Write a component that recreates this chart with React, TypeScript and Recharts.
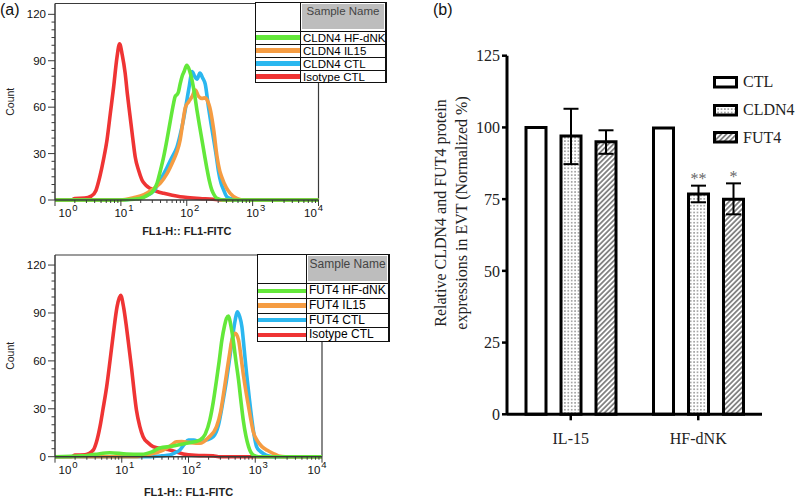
import React from 'react';
import {
  LineChart, Line, XAxis, YAxis, ReferenceLine, Legend,
  BarChart, Bar, ErrorBar, LabelList,
} from 'recharts';

// ---------------- Panel (a): flow cytometry histograms ----------------
// points: [log10(FL1-FITC), count]
const cldn4Isotype: number[][] = [
  [0, 0], [0.25, 0], [0.3, 1], [0.45, 1.2], [0.55, 2.5], [0.62, 6], [0.68, 15], [0.74, 27], [0.79, 39],
  [0.84, 56], [0.89, 73], [0.94, 92], [0.98, 101], [1.02, 94], [1.065, 82], [1.1, 68], [1.14, 54],
  [1.18, 40], [1.217, 28], [1.27, 19], [1.32, 13], [1.38, 9.5], [1.445, 7.5], [1.55, 5.5], [1.65, 4.3],
  [1.78, 3], [1.9, 2.1], [2.05, 1.5], [2.2, 1], [2.4, 0.5], [2.5, 0], [4, 0],
];
const cldn4Ctl: number[][] = [
  [0, 0], [1.0, 0], [1.2, 1], [1.4, 3], [1.5, 6], [1.6, 13], [1.7, 21], [1.78, 28], [1.85, 34], [1.9, 42],
  [1.95, 52], [2.0, 64], [2.04, 74], [2.08, 83], [2.12, 80], [2.155, 78], [2.2, 82], [2.24, 79], [2.28, 75],
  [2.33, 60], [2.37, 49], [2.41, 38.8], [2.45, 28], [2.48, 19], [2.52, 11], [2.56, 6.5], [2.61, 2],
  [2.7, 0.5], [2.8, 0], [4, 0],
];
const cldn4Il15: number[][] = [
  [0, 0], [1.0, 0], [1.19, 1.5], [1.35, 3.5], [1.5, 7.5], [1.6, 11], [1.7, 17], [1.8, 25.8], [1.85, 31],
  [1.9, 38.8], [1.94, 50], [1.98, 60], [2.03, 63.5], [2.08, 66.8], [2.13, 71], [2.18, 67], [2.23, 65.7],
  [2.28, 66], [2.31, 64.6], [2.36, 58], [2.41, 45], [2.46, 28], [2.5, 19], [2.53, 15], [2.6, 8],
  [2.66, 4.3], [2.76, 1], [2.85, 0], [4, 0],
];
const cldn4HfDnk: number[][] = [
  [0, 0], [1.0, 0], [1.2, 0.5], [1.29, 1], [1.4, 3], [1.5, 6.5], [1.55, 11], [1.6, 19], [1.65, 28],
  [1.7, 39], [1.75, 51], [1.8, 62.5], [1.825, 67], [1.85, 68], [1.875, 70], [1.9, 75], [1.93, 80],
  [1.96, 83], [2.0, 87], [2.04, 84], [2.08, 77.5], [2.12, 68], [2.155, 58], [2.19, 49], [2.23, 39],
  [2.27, 29], [2.31, 19.4], [2.345, 12], [2.38, 6.5], [2.42, 3], [2.46, 1], [2.55, 0], [4, 0],
];

const fut4Isotype: number[][] = [
  [0, 0], [0.25, 0], [0.3, 1], [0.45, 1.2], [0.574, 4.2], [0.62, 9], [0.674, 18.8], [0.72, 30],
  [0.774, 43.8], [0.824, 60], [0.874, 77], [0.93, 94], [0.984, 101], [1.03, 93], [1.07, 81.4], [1.11, 68],
  [1.15, 54.3], [1.185, 41], [1.22, 29.2], [1.27, 19], [1.32, 12.5], [1.4, 8.5], [1.47, 6.3], [1.6, 5],
  [1.72, 4.2], [1.82, 3], [1.92, 1.7], [2.1, 0.8], [2.37, 0.5], [2.45, 0], [4, 0],
];
const fut4Ctl: number[][] = [
  [0, 0], [1.4, 0], [1.6, 0.5], [1.72, 1], [1.8, 2.5], [1.87, 4.2], [1.94, 8], [2.0, 10.4], [2.08, 10.5],
  [2.17, 9.4], [2.27, 10.5], [2.37, 12.5], [2.45, 20], [2.52, 35.5], [2.57, 48], [2.62, 62.6], [2.66, 75],
  [2.7, 85.6], [2.73, 90.8], [2.765, 88], [2.8, 81.4], [2.835, 67], [2.87, 52], [2.91, 37], [2.95, 23],
  [2.985, 13], [3.02, 6.3], [3.07, 3.5], [3.12, 2], [3.2, 0.5], [3.3, 0], [4, 0],
];
const fut4Il15: number[][] = [
  [0, 0], [1.2, 0], [1.4, 1.5], [1.52, 2.5], [1.67, 5.2], [1.75, 7.5], [1.82, 9.4], [1.9, 9.5], [2.0, 9],
  [2.17, 8.4], [2.3, 12], [2.42, 18.8], [2.48, 28], [2.52, 38], [2.57, 52], [2.61, 63], [2.65, 73],
  [2.7, 77.3], [2.75, 73], [2.785, 63], [2.82, 52], [2.86, 41], [2.9, 31.3], [2.935, 23], [2.97, 15.7],
  [3.03, 10], [3.1, 6.3], [3.18, 4], [3.27, 2], [3.35, 0.5], [3.45, 0], [4, 0],
];
const fut4HfDnk: number[][] = [
  [0, 0], [0.4, 0.5], [0.6, 1.5], [0.82, 2.5], [1.07, 1.7], [1.3, 1.5], [1.45, 3], [1.57, 5.4], [1.75, 6.5],
  [1.97, 8.4], [2.17, 10.4], [2.25, 14], [2.32, 23], [2.37, 34], [2.42, 48], [2.46, 60], [2.5, 73],
  [2.54, 82], [2.57, 86.7], [2.6, 88], [2.635, 82], [2.67, 73], [2.71, 60], [2.75, 48], [2.785, 35],
  [2.82, 23], [2.86, 13], [2.9, 6.3], [2.97, 1], [3.05, 0], [4, 0],
];

const cldn4Labels = ['CLDN4 HF-dNK', 'CLDN4 IL15', 'CLDN4 CTL', 'Isotype CTL'];
const fut4Labels = ['FUT4 HF-dNK', 'FUT4 IL15', 'FUT4 CTL', 'Isotype CTL'];
const flowColors = ['#63e83a', '#f59c42', '#2bb7ef', '#ef3434'];
const decades = [0, 1, 2, 3, 4];
const countMajor = [0, 30, 60, 90, 120];
const countStep = 5;

// ---------------- Panel (b): bar chart ----------------
const groups = ['IL-15', 'HF-dNK'];
const ctlValues = [100, 99.8];
const cldn4Values = [97.0, 76.8];
const fut4Values = [95.0, 75.0];
const cldn4Errors = [[9.8, 9.5], [2.9, 2.9]];
const fut4Errors = [[4.2, 4.0], [5.3, 5.5]];
const cldn4Sig = ['', '**'];
const fut4Sig = ['', '*'];
const barNames = ['CTL', 'CLDN4', 'FUT4'];
const barTicks = [0, 25, 50, 75, 100, 125];

// ----------------------------------------------------------------------
const toPoints = (arr: number[][]) => arr.map(([x, y]) => ({ x, y }));

const logTicks: number[] = [];
decades.forEach((d) => {
  if (d < 4) {
    for (let k = 1; k <= 9; k++) logTicks.push(d + Math.log10(k));
  } else logTicks.push(d);
});
const countTicks: number[] = [];
for (let v = 0; v <= countMajor[countMajor.length - 1]; v += countStep) countTicks.push(v);

const AXIS_GRAY = '#3a3a3a';
const SANS = 'Arial, "Liberation Sans", Helvetica, sans-serif';
const SERIF = '"Liberation Serif", "Times New Roman", serif';

const LogTick = (props: any) => {
  const { x, y, payload } = props;
  const v = payload.value;
  const isMajor = Math.abs(v - Math.round(v)) < 1e-6;
  const len = isMajor ? 6 : 3;
  let shift = 0;
  if (isMajor && Math.round(v) === 0) shift = 10;
  if (isMajor && Math.round(v) === 4) shift = -8;
  return (
    <g>
      <line x1={x} x2={x} y1={y} y2={y + len} stroke={AXIS_GRAY} strokeWidth={1} />
      {isMajor && (
        <text x={x + shift - 6.5} y={y + 17} textAnchor="start" fontFamily={SANS} fontSize={11.5} fill="#111">
          10
          <tspan dx={1} dy={-6} fontSize={9.5}>{Math.round(v)}</tspan>
        </text>
      )}
    </g>
  );
};

const CountTick = (props: any) => {
  const { x, y, payload } = props;
  const v = payload.value;
  const isMajor = countMajor.includes(v);
  return (
    <g>
      <line x1={x - (isMajor ? 7 : 3.5)} x2={x} y1={y} y2={y} stroke={AXIS_GRAY} strokeWidth={1} />
      {isMajor && (
        <text x={x - 9} y={y} dy="0.36em" textAnchor="end" fontFamily={SANS} fontSize={11.5} fill="#111">
          {v}
        </text>
      )}
    </g>
  );
};

function FlowLegendTable(props: any) {
  const { payload = [], order, width, height, headerHeight, splitX, fontSize } = props;
  const items = order
    .map((n: string) => payload.find((p: any) => p.value === n))
    .filter(Boolean);
  const rowH = (height - headerHeight) / Math.max(items.length, 1);
  return (
    <div
      style={{
        position: 'relative', width, height, boxSizing: 'border-box',
        border: '1px solid #111', borderRight: '2px solid #111', background: '#fff',
        fontFamily: SANS, color: '#000',
      }}
    >
      <div style={{ position: 'absolute', left: splitX - 1, top: 0, width: 1, height: height - 2, background: '#111' }} />
      <div
        style={{
          position: 'absolute', left: splitX + 1, top: 1, right: 1, height: headerHeight - 4,
          background: '#bdbdbd', color: '#444', fontSize, textAlign: 'center',
          lineHeight: `${fontSize + 4}px`, whiteSpace: 'nowrap',
        }}
      >
        Sample Name
      </div>
      {items.map((it: any, i: number) => {
        const top = headerHeight - 1 + i * rowH;
        return (
          <div
            key={i}
            style={{
              position: 'absolute', left: 0, right: 0, top, height: rowH,
              borderTop: '1px solid #111', boxSizing: 'border-box',
            }}
          >
            <div
              style={{
                position: 'absolute', left: 0, width: splitX - 1, top: (rowH - 1) / 2 - 2.5,
                height: 4.5, background: it.color,
              }}
            />
            <div
              style={{
                position: 'absolute', left: splitX + 2, top: 0, height: rowH - 1,
                lineHeight: `${rowH - 1}px`, fontSize, whiteSpace: 'nowrap',
              }}
            >
              {it.value}
            </div>
          </div>
        );
      })}
    </div>
  );
}

type HistProps = {
  series: { name: string; color: string; points: { x: number; y: number }[] }[];
  order: string[];
  yMax: number;
  chartHeight: number;
  plotTop: number;
  plotBottom: number;
  plotRight: number;
  xLabelOffset: number;
  legend: { left: number; top: number; width: number; height: number; headerHeight: number; splitX: number; fontSize: number };
};

function Histogram(p: HistProps) {
  const xAxisHeight = p.chartHeight - p.plotBottom;
  return (
    <LineChart
      width={400}
      height={p.chartHeight}
      margin={{ top: p.plotTop, right: 400 - p.plotRight, bottom: 0, left: 0 }}
    >
      <XAxis
        type="number"
        dataKey="x"
        domain={[0, 4]}
        ticks={logTicks}
        interval={0}
        tick={<LogTick />}
        tickLine={false}
        tickSize={0}
        tickMargin={0}
        height={xAxisHeight}
        axisLine={{ stroke: AXIS_GRAY, strokeWidth: 1.5 }}
        label={{
          content: (lp: any) => {
            const vb = lp.viewBox || {};
            return (
              <text
                x={vb.x + vb.width / 2}
                y={vb.y + p.xLabelOffset}
                dy="0.36em"
                textAnchor="middle"
                fontFamily={SANS}
                fontSize={11}
                fontWeight="bold"
                fill="#222"
              >
                FL1-H:: FL1-FITC
              </text>
            );
          },
        }}
      />
      <YAxis
        type="number"
        domain={[0, p.yMax]}
        ticks={countTicks}
        interval={0}
        tick={<CountTick />}
        tickLine={false}
        tickSize={0}
        tickMargin={0}
        width={55}
        axisLine={{ stroke: AXIS_GRAY, strokeWidth: 1.5 }}
        label={{
          content: (lp: any) => {
            const vb = lp.viewBox || {};
            const cy = vb.y + vb.height / 2;
            return (
              <text
                x={10}
                y={cy}
                transform={`rotate(-90, 10, ${cy})`}
                textAnchor="middle"
                dy="0.36em"
                fontFamily={SANS}
                fontSize={10.5}
                fill="#222"
              >
                Count
              </text>
            );
          },
        }}
      />
      <ReferenceLine y={p.yMax} stroke={AXIS_GRAY} strokeWidth={1.2} />
      <ReferenceLine x={4} stroke={AXIS_GRAY} strokeWidth={1.2} />
      {p.series.map((s) => (
        <Line
          key={s.name}
          data={s.points}
          dataKey="y"
          name={s.name}
          stroke={s.color}
          strokeWidth={3.6}
          strokeLinejoin="round"
          dot={false}
          activeDot={false}
          type="monotone"
          isAnimationActive={false}
        />
      ))}
      <Legend
        layout="horizontal"
        verticalAlign="middle"
        align="center"
        wrapperStyle={{ left: p.legend.left, top: p.legend.top, width: p.legend.width, height: p.legend.height }}
        content={(lp: any) => (
          <FlowLegendTable
            payload={lp.payload}
            order={p.order}
            width={p.legend.width}
            height={p.legend.height}
            headerHeight={p.legend.headerHeight}
            splitX={p.legend.splitX}
            fontSize={p.legend.fontSize}
          />
        )}
      />
    </LineChart>
  );
}

// draw order: isotype (bottom), CTL, IL15, HF-dNK (top)
const cldn4Series = [
  { name: cldn4Labels[3], color: flowColors[3], points: toPoints(cldn4Isotype) },
  { name: cldn4Labels[2], color: flowColors[2], points: toPoints(cldn4Ctl) },
  { name: cldn4Labels[1], color: flowColors[1], points: toPoints(cldn4Il15) },
  { name: cldn4Labels[0], color: flowColors[0], points: toPoints(cldn4HfDnk) },
];
const fut4Series = [
  { name: fut4Labels[3], color: flowColors[3], points: toPoints(fut4Isotype) },
  { name: fut4Labels[2], color: flowColors[2], points: toPoints(fut4Ctl) },
  { name: fut4Labels[1], color: flowColors[1], points: toPoints(fut4Il15) },
  { name: fut4Labels[0], color: flowColors[0], points: toPoints(fut4HfDnk) },
];

const barData = groups.map((g, i) => ({
  group: g,
  ctl: ctlValues[i],
  cldn4: cldn4Values[i],
  fut4: fut4Values[i],
  cldn4Err: cldn4Errors[i],
  fut4Err: fut4Errors[i],
  cldn4Sig: cldn4Sig[i],
  fut4Sig: fut4Sig[i],
}));

const makeSigLabel = (values: number[], errors: number[][]) => (props: any) => {
  const { index, value } = props;
  if (!value) return null;
  const vb = props.viewBox || {};
  const x = vb.x ?? props.x;
  const y = vb.y ?? props.y;
  const w = vb.width ?? props.width;
  const h = vb.height ?? props.height;
  const pxPerUnit = h / values[index];
  const top = y - errors[index][1] * pxPerUnit;
  return (
    <text x={x + w / 2} y={top - 1.5} textAnchor="middle" fontFamily={SERIF} fontSize={16} fill="#666">
      {value}
    </text>
  );
};

const BarLegendContent = (props: any) => {
  const payload = props.payload || [];
  const items = barNames.map((n) => payload.find((p: any) => p.value === n)).filter(Boolean);
  return (
    <div style={{ width: 90, fontFamily: SERIF, fontSize: 16, color: '#222' }}>
      {items.map((it: any, i: number) => (
        <div key={i} style={{ display: 'flex', alignItems: 'center', height: 27.6 }}>
          <svg width={26} height={13} style={{ display: 'block' }}>
            <rect x={1.5} y={1.5} width={22} height={9.5} fill={it.color} stroke="#000" strokeWidth={3} />
          </svg>
          <span style={{ marginLeft: 4, lineHeight: '16px', whiteSpace: 'nowrap' }}>{it.value}</span>
        </div>
      ))}
    </div>
  );
};

function BarPanel() {
  return (
    <BarChart
      width={400}
      height={497}
      data={barData}
      margin={{ top: 55.7, right: 38, bottom: 42.7, left: 47 }}
      barSize={20}
      barGap={15}
    >
      <defs>
        <pattern id="dotPattern" width="3.4" height="3.4" patternUnits="userSpaceOnUse">
          <rect width="3.4" height="3.4" fill="#fff" />
          <circle cx="1.7" cy="1.7" r="0.75" fill="#7a7a7a" />
        </pattern>
        <pattern id="hatchPattern" width="3.6" height="3.6" patternUnits="userSpaceOnUse" patternTransform="rotate(45)">
          <rect width="3.6" height="3.6" fill="#fff" />
          <line x1="0.9" y1="0" x2="0.9" y2="3.6" stroke="#6a6a6a" strokeWidth="1.5" />
        </pattern>
      </defs>
      <XAxis
        dataKey="group"
        interval={0}
        height={40}
        tickSize={6}
        tickMargin={12}
        axisLine={{ stroke: '#000', strokeWidth: 3 }}
        tickLine={{ stroke: '#000', strokeWidth: 2.5 }}
        tick={{ fontFamily: SERIF, fontSize: 16, fill: '#222' }}
      />
      <YAxis
        type="number"
        domain={[0, 125]}
        ticks={barTicks}
        interval={0}
        width={60}
        tickSize={5}
        tickMargin={2}
        axisLine={{ stroke: '#000', strokeWidth: 3 }}
        tickLine={{ stroke: '#000', strokeWidth: 2.5 }}
        tick={{ fontFamily: SERIF, fontSize: 16, fill: '#222' }}
        label={{
          content: () => {
            const cx = 51.2;
            const cy = 213;
            return (
              <text
                x={cx}
                y={cy}
                transform={`rotate(-90, ${cx}, ${cy})`}
                textAnchor="middle"
                fontFamily={SERIF}
                fontSize={16}
                fill="#222"
              >
                <tspan x={cx} dy={-5.2}>Relative CLDN4 and FUT4 protein</tspan>
                <tspan x={cx} dy={21}>expressions in EVT (Normalized %)</tspan>
              </text>
            );
          },
        }}
      />
      <Bar dataKey="ctl" name={barNames[0]} fill="#fff" stroke="#000" strokeWidth={3} isAnimationActive={false} />
      <Bar dataKey="cldn4" name={barNames[1]} fill="url(#dotPattern)" stroke="#000" strokeWidth={3} isAnimationActive={false}>
        <ErrorBar dataKey="cldn4Err" width={7.5} stroke="#000" strokeWidth={2} direction="y" />
        <LabelList dataKey="cldn4Sig" content={makeSigLabel(cldn4Values, cldn4Errors)} />
      </Bar>
      <Bar dataKey="fut4" name={barNames[2]} fill="url(#hatchPattern)" stroke="#000" strokeWidth={3} isAnimationActive={false}>
        <ErrorBar dataKey="fut4Err" width={7.5} stroke="#000" strokeWidth={2} direction="y" />
        <LabelList dataKey="fut4Sig" content={makeSigLabel(fut4Values, fut4Errors)} />
      </Bar>
      <Legend
        layout="horizontal"
        verticalAlign="middle"
        align="center"
        wrapperStyle={{ left: 313, top: 68.7, width: 90, height: 83 }}
        content={(lp: any) => <BarLegendContent payload={lp.payload} />}
      />
    </BarChart>
  );
}

export default function App() {
  return (
    <div
      style={{
        position: 'absolute', left: 0, top: 0, width: 800, height: 497,
        background: '#fff', overflow: 'hidden',
      }}
    >
      <div style={{ position: 'absolute', left: 0, top: 0 }}>
        <Histogram
          series={cldn4Series}
          order={cldn4Labels}
          yMax={127}
          chartHeight={245}
          plotTop={3.5}
          plotBottom={200}
          plotRight={318.5}
          xLabelOffset={31.5}
          legend={{ left: 255, top: 1.7, width: 132, height: 81, headerHeight: 29, splitX: 45, fontSize: 11.5 }}
        />
      </div>
      <div style={{ position: 'absolute', left: 0, top: 245 }}>
        <Histogram
          series={fut4Series}
          order={fut4Labels}
          yMax={126.3}
          chartHeight={252}
          plotTop={10}
          plotBottom={211.7}
          plotRight={322}
          xLabelOffset={35}
          legend={{ left: 256.7, top: 9, width: 133.5, height: 88, headerHeight: 29.3, splitX: 49.3, fontSize: 12 }}
        />
      </div>
      <div style={{ position: 'absolute', left: 400, top: 0 }}>
        <BarPanel />
      </div>
      <div style={{ position: 'absolute', left: 0, top: 1, fontFamily: SANS, fontSize: 16, lineHeight: '18px', color: '#111' }}>
        (a)
      </div>
      <div style={{ position: 'absolute', left: 433, top: 1, fontFamily: SANS, fontSize: 16, lineHeight: '18px', color: '#111' }}>
        (b)
      </div>
    </div>
  );
}
